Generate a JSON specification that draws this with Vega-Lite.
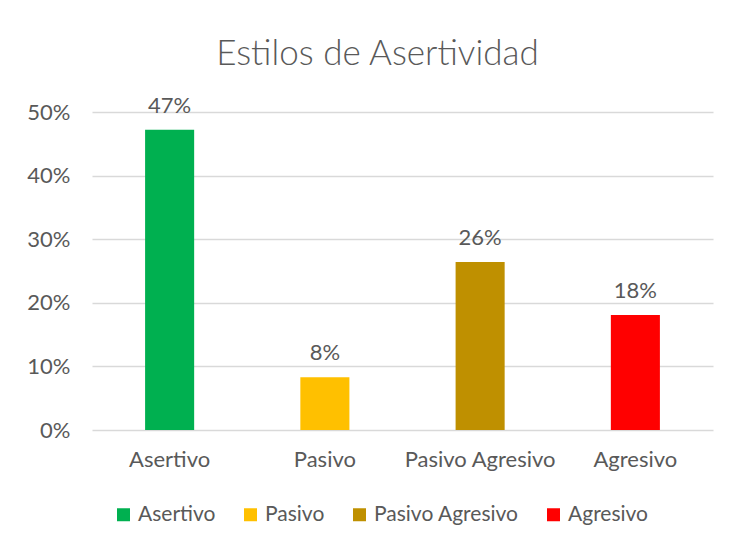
{
  "$schema": "https://vega.github.io/schema/vega-lite/v6.json",
  "autosize": {"type": "none"},
  "padding": {"left": 92, "top": 112, "right": 18, "bottom": 116},
  "width": 621,
  "height": 318,
  "background": "white",
  "title": {
    "text": "Estilos de Asertividad",
    "font": "Lato",
    "fontSize": 35,
    "fontWeight": 300,
    "color": "#595959",
    "anchor": "middle",
    "frame": "group",
    "dx": -25,
    "offset": 23
  },
  "data": {
    "values": [
      {"estilo": "Asertivo", "pct": 0.472},
      {"estilo": "Pasivo", "pct": 0.083},
      {"estilo": "Pasivo Agresivo", "pct": 0.264},
      {"estilo": "Agresivo", "pct": 0.181}
    ]
  },
  "config": {
    "view": {"stroke": null},
    "font": "Lato"
  },
  "encoding": {
    "x": {
      "field": "estilo",
      "type": "nominal",
      "sort": ["Asertivo", "Pasivo", "Pasivo Agresivo", "Agresivo"],
      "scale": {"paddingInner": 0.684, "paddingOuter": 0.342},
      "axis": {
        "title": null,
        "labelAngle": 0,
        "domain": false,
        "ticks": false,
        "labelFont": "Lato",
        "labelFontSize": 22,
        "labelColor": "#595959",
        "labelPadding": 19
      }
    },
    "y": {
      "field": "pct",
      "type": "quantitative",
      "scale": {"domain": [0, 0.5]},
      "axis": {
        "title": null,
        "format": ".0%",
        "values": [0, 0.1, 0.2, 0.3, 0.4, 0.5],
        "domain": false,
        "ticks": false,
        "gridColor": "#D9D9D9",
        "gridWidth": 1.3,
        "labelFont": "Lato",
        "labelFontSize": 22,
        "labelColor": "#595959",
        "labelPadding": 22
      }
    }
  },
  "layer": [
    {
      "mark": {"type": "bar"},
      "encoding": {
        "color": {
          "field": "estilo",
          "type": "nominal",
          "sort": ["Asertivo", "Pasivo", "Pasivo Agresivo", "Agresivo"],
          "scale": {
            "domain": ["Asertivo", "Pasivo", "Pasivo Agresivo", "Agresivo"],
            "range": ["#00B050", "#FFC000", "#BF9000", "#FF0000"]
          },
          "legend": {
            "title": null,
            "orient": "none",
            "legendX": 21,
            "legendY": 392,
            "padding": 0,
            "direction": "horizontal",
            "symbolType": "square",
            "symbolSize": 169,
            "symbolStrokeWidth": 0,
            "labelFont": "Lato",
            "labelFontSize": 21,
            "labelColor": "#595959",
            "labelOffset": 4,
            "columnPadding": 24
          }
        }
      }
    },
    {
      "mark": {
        "type": "text",
        "baseline": "bottom",
        "dy": -12,
        "font": "Lato",
        "fontSize": 22,
        "color": "#595959"
      },
      "encoding": {
        "text": {"field": "pct", "type": "quantitative", "format": ".0%"}
      }
    }
  ]
}
